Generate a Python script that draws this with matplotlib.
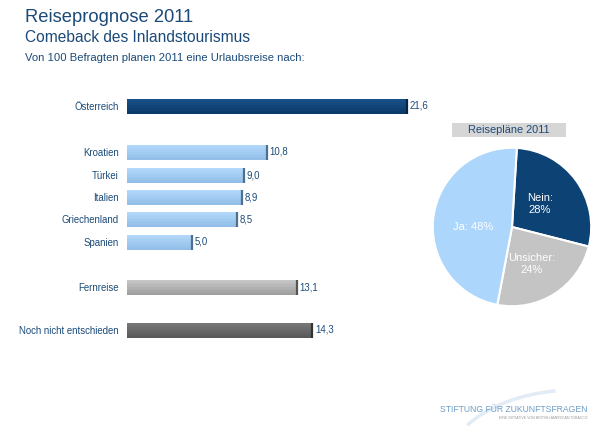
import numpy as np
import matplotlib.pyplot as plt
from matplotlib.colors import to_rgb
from matplotlib.patches import Rectangle, Arc

plt.rcParams['font.family'] = ['Liberation Sans', 'DejaVu Sans']

# data
categories = ['Österreich', 'Kroatien', 'Türkei', 'Italien', 'Griechenland', 'Spanien',
              'Fernreise', 'Noch nicht entschieden']
values = [21.6, 10.8, 9.0, 8.9, 8.5, 5.0, 13.1, 14.3]
value_labels = ['21,6', '10,8', '9,0', '8,9', '8,5', '5,0', '13,1', '14,3']

pie_labels = ['Nein:\n28%', 'Unsicher:\n24%', 'Ja: 48%']
pie_values = [28, 24, 48]

navy = '#1b4a78'
top_colors = ['#185088', '#b3d9fb', '#b3d9fb', '#b3d9fb', '#b3d9fb', '#b3d9fb',
              '#c6c6c6', '#787878']
bottom_colors = ['#0b3a69', '#92bee8', '#92bee8', '#92bee8', '#92bee8', '#92bee8',
                 '#a0a0a0', '#5a5a5a']
cap_colors = ['#062543', '#4f6f8e', '#4f6f8e', '#4f6f8e', '#4f6f8e', '#4f6f8e',
              '#555555', '#333333']
# layout: bar centres in pixel rows
ypos = [106, 152, 175, 197, 219, 242, 287, 330]
bar_h = 15

W, H = 610, 437
fig = plt.figure(figsize=(W / 100, H / 100), dpi=100)
fig.patch.set_facecolor('white')

fig.text(25 / W, 1 - 17 / H, 'Reiseprognose 2011', fontsize=13.2, color=navy, va='center')
fig.text(25 / W, 1 - 38 / H, 'Comeback des Inlandstourismus', fontsize=11.2, color=navy, va='center')
fig.text(25 / W, 1 - 58 / H, 'Von 100 Befragten planen 2011 eine Urlaubsreise nach:',
         fontsize=8.1, color=navy, va='center')

# bar chart with vertical shading
ax = fig.add_axes([127 / W, 1 - 350 / H, 300 / W, 260 / H])
n = 10
for y, v, ct, cb, cc in zip(ypos, values, top_colors, bottom_colors, cap_colors):
    t, b = np.array(to_rgb(ct)), np.array(to_rgb(cb))
    for k in range(n):
        f = k / (n - 1)
        col = t * (1 - f) + b * f
        y0 = y - bar_h / 2 + k * bar_h / n
        ax.barh(y0, v, height=bar_h / n + 0.05, align='edge', color=col, linewidth=0)
    ax.vlines(v, y - bar_h / 2, y + bar_h / 2, colors=cc, linewidth=1.6)
ax.set_xlim(0, 300 / 12.96)
ax.set_ylim(350, 90)
ax.set_yticks(ypos)
ax.set_yticklabels(categories, fontsize=6.9, color=navy)
ax.tick_params(axis='y', length=0, pad=6)
ax.set_xticks([])
for s in ax.spines.values():
    s.set_visible(False)
for y, v, lab in zip(ypos, values, value_labels):
    ax.text(v + 0.2, y, lab, fontsize=6.9, color=navy, va='center', ha='left')

# pie chart
r = 80
axp = fig.add_axes([(512 - r) / W, 1 - (227 + r) / H, 2 * r / W, 2 * r / H])
wedges, texts = axp.pie(pie_values, colors=['#0d4274', '#c4c4c4', '#acd6fb'],
                        startangle=86.5, counterclock=False,
                        labels=pie_labels, labeldistance=0.5,
                        wedgeprops=dict(edgecolor='white', linewidth=1.5),
                        textprops=dict(fontsize=8, ha='center', va='center', color='white'))
texts[0].set_position((0.35, 0.29))
texts[1].set_position((0.25, -0.47))
texts[2].set_position((-0.49, 0.0))
axp.set_xlim(-1.01, 1.01)
axp.set_ylim(-1.01, 1.01)
axp.set_aspect('equal')

fig.patches.append(Rectangle((452 / W, 1 - 137 / H), 114 / W, 14 / H,
                             transform=fig.transFigure, facecolor='#d6d6d6',
                             edgecolor='none'))
fig.text(509 / W, 1 - 130 / H, 'Reisepläne 2011', fontsize=7.9, color=navy,
         ha='center', va='center')

# footer logo: faint swoosh and text
fig.patches.append(Arc((575 / W, 1 - 470 / H), 260 / W, 160 / H, theta1=100, theta2=150,
                       transform=fig.transFigure, color='#e2ecf6', linewidth=2.5))
fig.text(588 / W, 1 - 409 / H, 'STIFTUNG FÜR ZUKUNFTSFRAGEN', fontsize=6.2,
         color='#6e9dc6', ha='right', va='center')
fig.text(588 / W, 1 - 418 / H, 'EINE INITIATIVE VON BRITISH AMERICAN TOBACCO', fontsize=2.6,
         color='#9a9a9a', ha='right', va='center')

fig.savefig('out.png', dpi=100)
